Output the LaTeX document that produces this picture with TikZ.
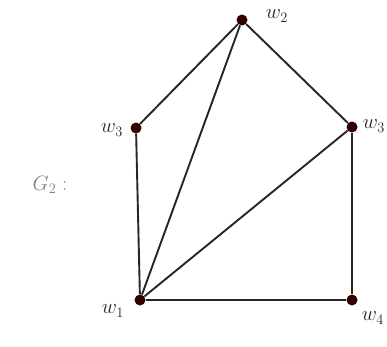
\documentclass[tikz,border=0pt]{standalone}
\begin{document}
\begin{tikzpicture}[x=1pt,y=-1pt,
  vtx/.style={circle,fill=black!80!red,inner sep=0pt,minimum size=11pt},
  edge/.style={line width=1.9pt,draw=black!85},
  lbl/.style={font=\fontsize{22}{26}\selectfont,text=black!85,inner sep=0pt}]
\useasboundingbox (0,0) rectangle (387,346);
\fill[white] (0,0) rectangle (387,346);
\node[vtx] (w2) at (242,20) {};
\node[vtx] (w3l) at (136,128) {};
\node[vtx] (w3r) at (352,127) {};
\node[vtx] (w1) at (140,300) {};
\node[vtx] (w4) at (352,300) {};
\draw[edge] (w2) -- (w3l);
\draw[edge] (w2) -- (w3r);
\draw[edge] (w2) -- (w1);
\draw[edge] (w3l) -- (w1);
\draw[edge] (w3r) -- (w1);
\draw[edge] (w3r) -- (w4);
\draw[edge] (w1) -- (w4);
\node[lbl] (l2) at (277,16) {$w_2$};
\node[lbl] (l3l) at (112,130) {$w_3$};
\node[lbl] (l3r) at (374,126) {$w_3$};
\node[lbl] (l1) at (113,311) {$w_1$};
\node[lbl] (l4) at (373,318) {$w_4$};
\node[lbl,text=black!50] (g) at (50,185) {$G_2:$};
\end{tikzpicture}
\end{document}
